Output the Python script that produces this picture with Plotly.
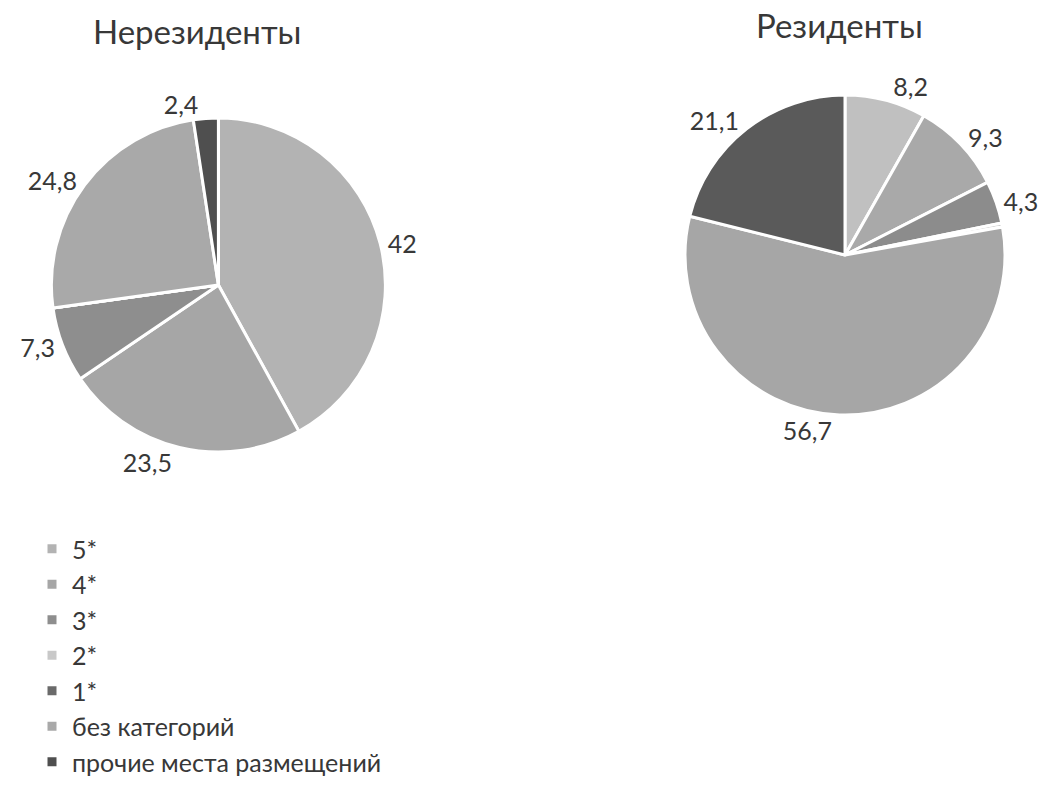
import plotly.graph_objects as go

categories = ["5*", "4*", "3*", "2*", "1*", "без категорий", "прочие места размещений"]
nonresidents = [42, 23.5, 7.3, 0, 0, 24.8, 2.4]
residents = [8.2, 9.3, 4.3, 0.4, 0, 56.7, 21.1]
colors = ["#b3b3b3", "#a6a6a6", "#8e8e8e", "#c8c8c8", "#6a6a6a", "#a9a9a9", "#4f4f4f"]
colors_res = ["#c0c0c0", "#a9a9a9", "#8c8c8c", "#d0d0d0", "#6a6a6a", "#a6a6a6", "#5a5a5a"]
titles = ["Нерезиденты", "Резиденты"]


def fmt(v):
    # labels under 1 % are not printed on the original chart
    if v < 1:
        return ""
    return ("%g" % v).replace(".", ",")


FONT = "Lato, 'Open Sans', sans-serif"
TXT = "#383838"

fig = go.Figure()
fig.add_trace(go.Pie(
    labels=categories, values=nonresidents, text=[fmt(v) for v in nonresidents],
    textinfo="text", textposition="outside", sort=False, direction="clockwise", rotation=0,
    marker=dict(colors=colors, line=dict(color="white", width=3)),
    textfont=dict(size=25, color=TXT, family=FONT),
    domain=dict(x=[0.0, 0.42], y=[0.4257, 0.8501]), name=titles[0], showlegend=True,
))
fig.add_trace(go.Pie(
    labels=categories, values=residents, text=[fmt(v) for v in residents],
    textinfo="text", textposition="outside", sort=False, direction="clockwise", rotation=0,
    marker=dict(colors=colors_res, line=dict(color="white", width=3)),
    textfont=dict(size=25, color=TXT, family=FONT),
    domain=dict(x=[0.625, 1.0], y=[0.4727, 0.8793]), name=titles[1], showlegend=False,
))

fig.update_layout(
    width=1040, height=787,
    margin=dict(l=0, r=0, t=0, b=0, autoexpand=False),
    paper_bgcolor="white", plot_bgcolor="white",
    font=dict(family=FONT, color=TXT),
    legend=dict(x=32 / 1040, y=1 - 526 / 787, xanchor="left", yanchor="top",
                font=dict(size=25, color=TXT, family=FONT),
                traceorder="normal", itemwidth=30),
    annotations=[
        dict(text=titles[0], x=197 / 1040, y=1 - 31 / 787, xref="paper", yref="paper",
             xanchor="center", yanchor="middle",
             showarrow=False, font=dict(size=33, color=TXT, family=FONT)),
        dict(text=titles[1], x=839 / 1040, y=1 - 25 / 787, xref="paper", yref="paper",
             xanchor="center", yanchor="middle",
             showarrow=False, font=dict(size=33, color=TXT, family=FONT)),
    ],
)

fig.write_html(
    "out.html",
    config={"displayModeBar": False},
    post_script="document.body.style.margin='0';document.body.style.overflow='hidden';",
)
